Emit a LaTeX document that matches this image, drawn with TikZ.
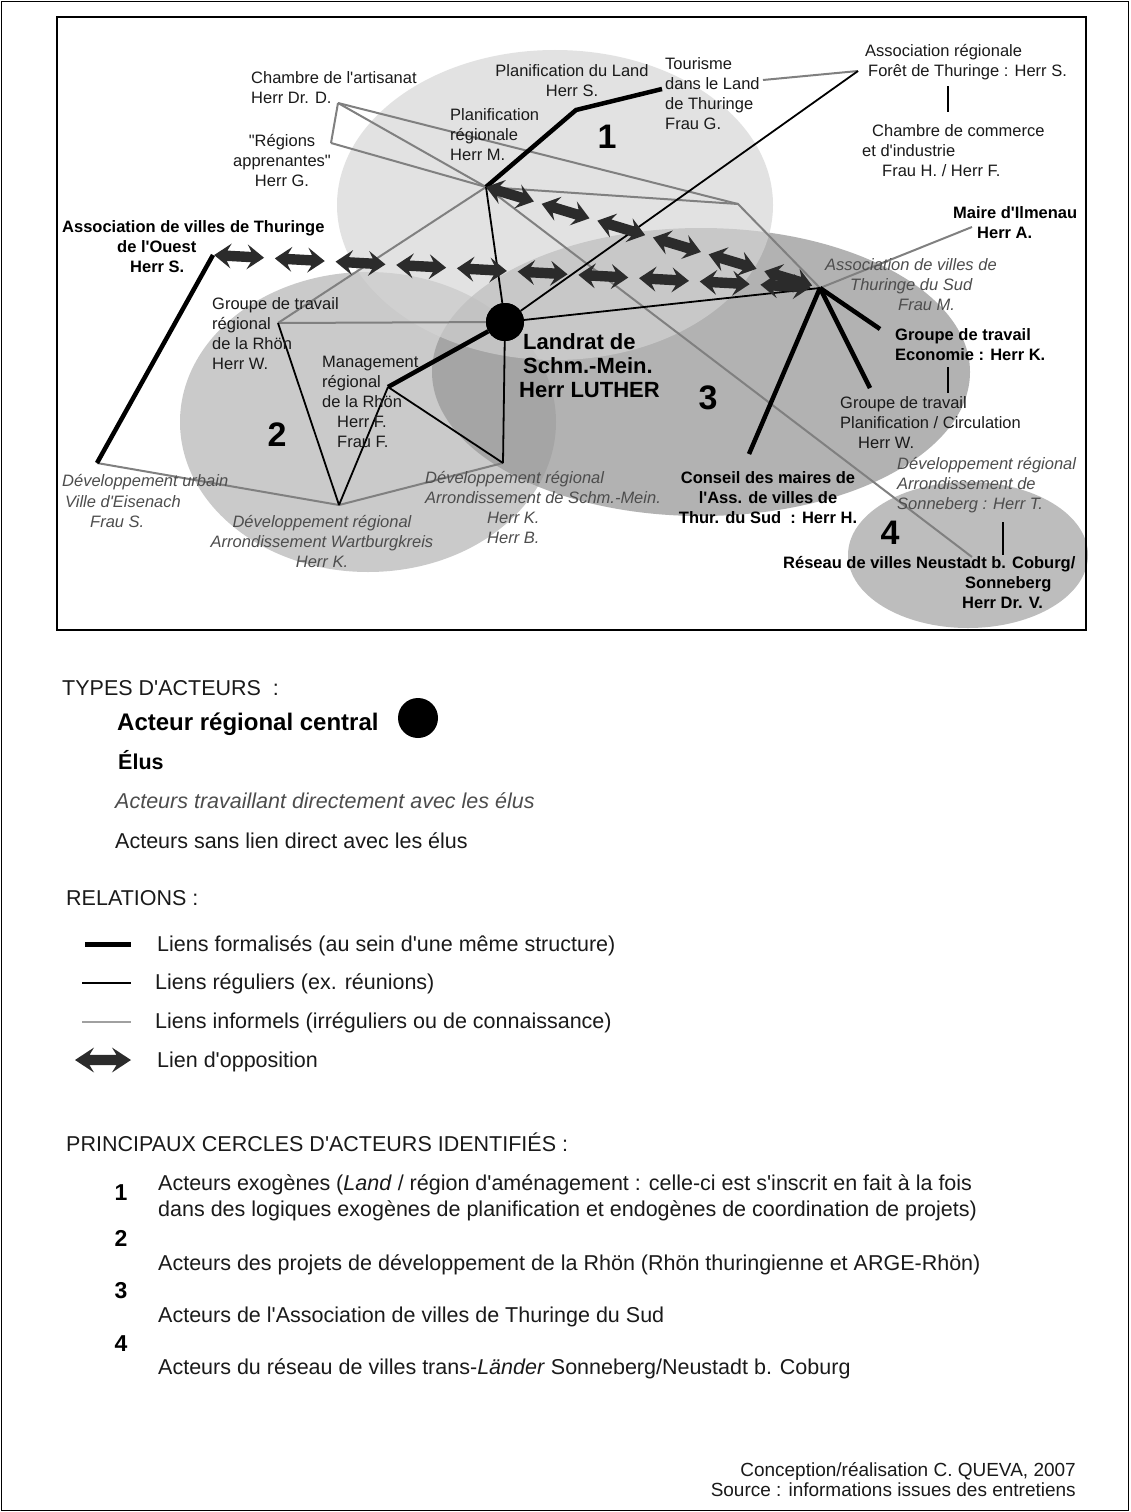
\documentclass[tikz,border=0pt]{standalone}
\usepackage{fontspec}
\setmainfont{Liberation Sans}[Ligatures=TeXOff]
\usetikzlibrary{arrows.meta,calc}
\definecolor{txtc}{HTML}{1A1A1A}
\definecolor{wrkc}{HTML}{4D4D4D}
\definecolor{infc}{HTML}{808080}
\definecolor{oppc}{HTML}{2B2B2B}
\definecolor{eone}{HTML}{D4D4D4}
\definecolor{etwo}{HTML}{9B9B9B}
\definecolor{ethree}{HTML}{B2B2B2}
\definecolor{efour}{HTML}{BDBDBD}
\newcommand{\oppchain}[3]{%
  \foreach \k in {1,...,#3}{%
    \pgfmathsetmacro{\pp}{(\k-1)/#3+0.43/#3}%
    \path (#1) -- (#2) pic[pos=\pp, sloped] {opparrow};
  }}
\tikzset{
  txtbase/.style={inner sep=0pt, align=left},
  reg/.style={txtbase, text=txtc, font=\fontsize{16.5}{20}\selectfont},
  elu/.style={txtbase, text=black, font=\fontsize{16.5}{20}\selectfont\bfseries},
  wrk/.style={txtbase, text=wrkc, font=\fontsize{16.5}{20}\selectfont\itshape},
  num/.style={inner sep=0pt, font=\fontsize{34}{34}\selectfont\bfseries},
  lg/.style={inner sep=0pt, text=txtc, font=\fontsize{21.5}{26}\selectfont},
  lnformal/.style={draw=black, line width=4.5pt},
  lnregular/.style={draw=black, line width=1.8pt},
  lninformal/.style={draw=infc, line width=2pt},
  vlink/.style={draw=black, line width=2.5pt},
  opparrow/.pic={\fill[oppc] (-25,0) -- (-8,12.5) -- (-12,5.2) -- (12,5.2) -- (8,12.5) -- (25,0)
      -- (8,-12.5) -- (12,-5.2) -- (-12,-5.2) -- (-8,-12.5) -- cycle;},
}
\begin{document}
\begin{tikzpicture}[x=1pt,y=-1pt]
\useasboundingbox (0,0) rectangle (1130,1512);
\fill[white] (0,0) rectangle (1130,1512);

% circles of actors
\fill[ethree] (701,372) ellipse [x radius=269pt, y radius=144pt];
\fill[etwo, fill opacity=0.53] (368,422) ellipse [x radius=188pt, y radius=150pt];
\fill[eone, fill opacity=0.66] (555,205) ellipse [x radius=218pt, y radius=155pt];
\fill[efour] (968,555) ellipse [x radius=120pt, y radius=73pt];

% attachment points
\coordinate (pCA) at (338,103);
\coordinate (pRA) at (331,143);
\coordinate (pPM) at (486,187);
\coordinate (pPL) at (576,110);
\coordinate (pTO) at (662,89);
\coordinate (pTOg) at (763,80);
\coordinate (pAR) at (858,71);
\coordinate (pBend) at (738,204);
\coordinate (pASud) at (820,288);
\coordinate (pMI) at (972,227);
\coordinate (pAO) at (213,255);
\coordinate (pEI) at (97,463);
\coordinate (pGR) at (278,323);
\coordinate (pMR) at (388,387);
\coordinate (pWK) at (339,505);
\coordinate (pSM) at (503,463);
\coordinate (pCM) at (749,454);
\coordinate (pGP) at (870,388);
\coordinate (pGE) at (880,329);
\coordinate (pRN) at (972,557);
\coordinate (vAa) at (948,86);
\coordinate (vAb) at (948,112);
\coordinate (vBa) at (948,367);
\coordinate (vBb) at (948,393);
\coordinate (vCa) at (1003,522);
\coordinate (vCb) at (1003,555);

\node[circle, fill=black, minimum size=38pt, inner sep=0pt] (cLU) at (505,322) {};

% informal links
\draw[lninformal] (pCA) -- (pRA);
\draw[lninformal] (pCA) -- (pPM);
\draw[lninformal] (pCA) -- (pBend);
\draw[lninformal] (pRA) -- (pPM);
\draw[lninformal] (pPM) -- (pBend) -- (pASud);
\draw[lninformal] (pPM) -- (pRN);
\draw[lninformal] (pGR) -- (pPM);
\draw[lninformal] (pGR) -- (cLU);
\draw[lninformal] (pTOg) -- (pAR);
\draw[lninformal] (pASud) -- (pMI);
\draw[lninformal] (pEI) -- (pWK) -- (pSM);

% regular links
\draw[lnregular] (pPM) -- (cLU);
\draw[lnregular] (cLU) -- (pAR);
\draw[lnregular] (cLU) -- (pASud);
\draw[lnregular] (cLU) -- (pSM);
\draw[lnregular] (pMR) -- (pSM);
\draw[lnregular] (pGR) -- (pWK);
\draw[lnregular] (pMR) -- (pWK);

% formalised links
\draw[lnformal] (pPM) -- (pPL) -- (pTO);
\draw[lnformal] (cLU) -- (pMR);
\draw[lnformal] (pAO) -- (pEI);
\draw[lnformal] (pASud) -- (pCM);
\draw[lnformal] (pASud) -- (pGP);
\draw[lnformal] (pASud) -- (pGE);
\draw[vlink] (vAa) -- (vAb);
\draw[vlink] (vBa) -- (vBb);
\draw[vlink] (vCa) -- (vCb);

% opposition
\oppchain{pAO}{pASud}{10}
\oppchain{pPM}{pASud}{6}

\node[circle, fill=black, minimum size=38pt, inner sep=0pt] at (cLU) {};

% actor labels
\node[reg, anchor=west] (nCA) at (251,87.5) {Chambre de l'artisanat\\Herr Dr. D.};
\node[reg, align=center] (nRA) at (282,161) {"Régions\\apprenantes"\\Herr G.};
\node[reg, align=center] (nPL) at (572,81) {Planification du Land\\Herr S.};
\node[reg, anchor=west] (nTO) at (665,93.5) {Tourisme\\dans le Land\\de Thuringe\\Frau G.};
\node[reg, anchor=west] (nPM) at (450,134.5) {Planification\\régionale\\Herr M.};
\node[reg, anchor=west] (nAR) at (865,62) {Association régionale\\\hspace*{3pt}Forêt de Thuringe : Herr S.};
\node[reg, anchor=west] (nCC) at (862,151) {\hspace*{10pt}Chambre de commerce\\et d'industrie\\\hspace*{20pt}Frau H. / Herr F.};
\node[elu, anchor=west] (nMI) at (953,223) {Maire d'Ilmenau\\\hspace*{24pt}Herr A.};
\node[wrk, anchor=west] (nAS) at (825,285) {Association de villes de\\\hspace*{25pt}Thuringe du Sud\\\hspace*{73pt}Frau M.};
\node[elu, anchor=west] (nAO) at (62,247) {Association de villes de Thuringe\\\hspace*{55pt}de l'Ouest\\\hspace*{68pt}Herr S.};
\node[reg, anchor=west] (nGR) at (212,333.5) {Groupe de travail\\régional\\de la Rhön\\Herr W.};
\node[reg, anchor=west] (nMR) at (322,401.5) {Management\\régional\\de la Rhön\\\hspace*{15pt}Herr F.\\\hspace*{15pt}Frau F.};
\node[txtbase, anchor=west, font=\fontsize{22}{24}\selectfont\bfseries] (nLU) at (519,366) {\hspace*{4pt}Landrat de\\\hspace*{4pt}Schm.-Mein.\\Herr LUTHER};
\node[wrk, anchor=west] (nEI) at (62,501) {Développement urbain\\\hspace*{3pt}Ville d'Eisenach\\\hspace*{28pt}Frau S.};
\node[wrk, align=center] (nWK) at (322,541.5) {Développement régional\\Arrondissement Wartburgkreis\\Herr K.};
\node[wrk, anchor=west] (nSM) at (425,507.5) {Développement régional\\Arrondissement de Schm.-Mein.\\\hspace*{62pt}Herr K.\\\hspace*{62pt}Herr B.};
\node[elu, anchor=west] (nGE) at (895,345) {Groupe de travail\\Economie : Herr K.};
\node[reg, anchor=west] (nGP) at (840,423) {Groupe de travail\\Planification / Circulation\\\hspace*{18pt}Herr W.};
\node[elu, align=center] (nCM) at (768,498) {Conseil des maires de\\l'Ass. de villes de\\Thur. du Sud~ : Herr H.};
\node[wrk, anchor=west] (nSO) at (897,485) {Développement régional\\Arrondissement de\\Sonneberg : Herr T.};
\node[elu, anchor=west] (nRN) at (783,583) {Réseau de villes Neustadt b. Coburg/\\\hspace*{182pt}Sonneberg\\\hspace*{179pt}Herr Dr. V.};

\node[num] (k1) at (607,137) {1};
\node[num] (k2) at (277,435) {2};
\node[num] (k3) at (708,398) {3};
\node[num] (k4) at (890,533) {4};

% frames
\draw[line width=2pt] (57,17) rectangle (1086,630);
\draw[line width=1.5pt] (1.5,1.5) rectangle (1128.5,1510.5);

% legend: types of actors
\node[lg, anchor=base west] (lgT) at (62,695.5) {TYPES D'ACTEURS~ :};
\node[lg, anchor=base west, font=\fontsize{24}{28}\selectfont\bfseries, text=black] (lgCentral) at (117,730.5) {Acteur régional central};
\node[circle, fill=black, minimum size=40pt, inner sep=0pt] (lgC) at (418,718) {};
\node[lg, anchor=base west, font=\fontsize{21.5}{26}\selectfont\bfseries, text=black] (lgElus) at (118,769.5) {Élus};
\node[lg, anchor=base west, font=\fontsize{21.5}{26}\selectfont\itshape, text=wrkc] (lgWork) at (115,808.5) {Acteurs travaillant directement avec les élus};
\node[lg, anchor=base west] (lgSans) at (115,848.5) {Acteurs sans lien direct avec les élus};

% legend: relations
\node[lg, anchor=base west] (lgR) at (66,905.5) {RELATIONS :};
\coordinate (lfa) at (85,944); \coordinate (lfb) at (131,944);
\coordinate (lra) at (82,983); \coordinate (lrb) at (131,983);
\coordinate (lia) at (82,1022); \coordinate (lib) at (131,1022);
\coordinate (loa) at (75,1060); \coordinate (lob) at (131,1060);
\draw[black, line width=5pt] (lfa) -- (lfb);
\draw[lnregular] (lra) -- (lrb);
\draw[draw=infc!75, line width=2.5pt] (lia) -- (lib);
\path (loa) -- (lob) pic[pos=0.5, sloped, xscale=1.12] {opparrow};
\node[lg, anchor=base west] (lgF) at (157,951.5) {Liens formalisés (au sein d'une même structure)};
\node[lg, anchor=base west] (lgReg) at (155,989.5) {Liens réguliers (ex. réunions)};
\node[lg, anchor=base west] (lgInf) at (155,1028.5) {Liens informels (irréguliers ou de connaissance)};
\node[lg, anchor=base west] (lgOpp) at (157,1067.5) {Lien d'opposition};

% legend: circles
\node[lg, anchor=base west] (lgP) at (66,1151.5) {PRINCIPAUX CERCLES D'ACTEURS IDENTIFIÉS :};
\node[num, font=\fontsize{23}{23}\selectfont\bfseries] (lk1) at (121,1193) {1};
\node[num, font=\fontsize{23}{23}\selectfont\bfseries] (lk2) at (121,1238) {2};
\node[num, font=\fontsize{23}{23}\selectfont\bfseries] (lk3) at (121,1291) {3};
\node[num, font=\fontsize{23}{23}\selectfont\bfseries] (lk4) at (121,1344) {4};
\node[lg, anchor=west, align=left] (lp1) at (158,1198) {Acteurs exogènes (\textit{Land} / région d'aménagement : celle-ci est s'inscrit en fait à la fois\\dans des logiques exogènes de planification et endogènes de coordination de projets)};
\node[lg, anchor=base west] (lp2) at (158,1270.5) {Acteurs des projets de développement de la Rhön (Rhön thuringienne et ARGE-Rhön)};
\node[lg, anchor=base west] (lp3) at (158,1322.5) {Acteurs de l'Association de villes de Thuringe du Sud};
\node[lg, anchor=base west] (lp4) at (158,1374.5) {Acteurs du réseau de villes trans-\textit{Länder} Sonneberg/Neustadt b. Coburg};

% credits
\node[inner sep=0pt, align=right, anchor=east, text=txtc, font=\fontsize{19}{19.5}\selectfont] (cred) at (1076,1479.5) {Conception/réalisation C. QUEVA, 2007\\Source : informations issues des entretiens};
\end{tikzpicture}
\end{document}
